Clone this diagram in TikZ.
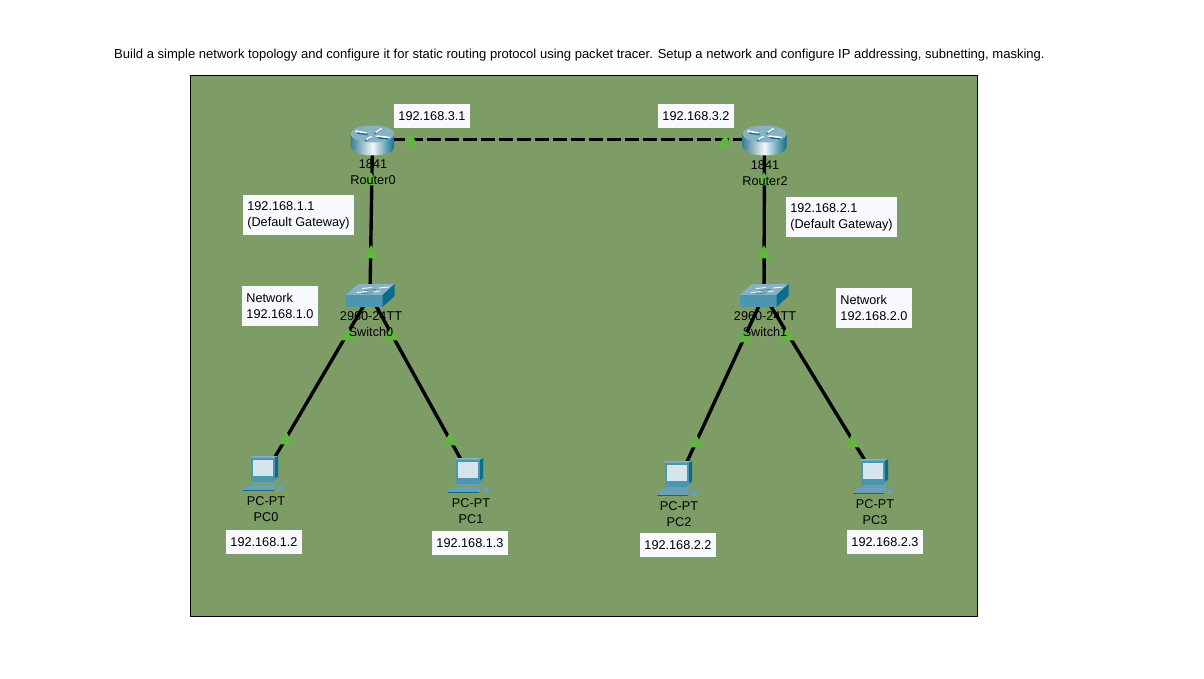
\documentclass[tikz,border=0pt]{standalone}
\usepackage{fontspec}
\setmainfont{Liberation Sans}
\usepackage{tikz}
\usetikzlibrary{shapes.geometric,positioning}
\definecolor{canvasgreen}{RGB}{125,156,102}
\definecolor{porttri}{RGB}{96,182,64}
\definecolor{boxwhite}{RGB}{248,248,255}
\definecolor{ciscotop}{RGB}{135,178,196}
\definecolor{ciscodark}{RGB}{62,126,150}
\definecolor{ciscodeep}{RGB}{12,108,140}
\definecolor{ciscoface}{RGB}{76,150,176}
\definecolor{ciscokey}{RGB}{104,160,182}
\definecolor{ciscoscreen}{RGB}{214,228,236}
\newcommand{\lblfont}{\fontsize{12.7}{16}\selectfont}
\tikzset{
    linkline/.style={line width=3.4pt, black},
    portmark/.style={regular polygon, regular polygon sides=3, fill=porttri, inner sep=0pt, minimum size=17.3pt},
    devspot/.style={inner sep=0pt, minimum size=0pt},
    devlabel/.style={font=\lblfont, align=center, inner sep=0pt, text=black},
    ipbox/.style={font=\lblfont, fill=boxwhite, inner sep=0pt, minimum width=76pt, minimum height=24pt, text=black},
    notebox/.style={font=\lblfont, fill=boxwhite, align=left, inner sep=0pt, inner xsep=4pt, minimum height=40pt, text=black},
    routericon/.pic={
        \shade[left color=ciscodark, right color=ciscodeep, middle color=white!90!ciscotop]
            (-22,-5.5) -- (-22,7.5) .. controls (-22,12.2) and (-12,16) .. (0,16)
            .. controls (12,16) and (22,12.2) .. (22,7.5) -- (22,-5.5) -- cycle;
        \fill[ciscotop] (0,-5.5) ellipse [x radius=22pt, y radius=8.5pt];
        \draw[ciscodeep, line width=1.6pt] (-15,-6.6) -- (-5,-5) (5,-2) -- (16,-0.6) (-7,1.2) -- (-2,-1.8) (2,-6) -- (8,-10);
        \draw[white, line width=1.5pt] (-17,-8.5) -- (-6,-6.5) (4,-3.5) -- (17,-2) (-6,0) -- (-1,-3) (3,-7) -- (9,-11);
    },
    switchicon/.pic={
        \fill[ciscotop] (-24.5,0) -- (-12,-11) -- (24.5,-11) -- (12.5,0) -- cycle;
        \fill[ciscoface] (-24.5,0) rectangle (12.5,12);
        \fill[ciscodeep] (12.5,0) -- (24.5,-11) -- (24.5,1) -- (12.5,12) -- cycle;
        \draw[white, line width=0.8pt] (-8,-6.5) -- (2,-7.5) (9,-7) -- (19,-8) (-13,-2.5) -- (-3,-3.5) (4,-3) -- (10,-4);
        \draw[ciscodark, line width=0.6pt] (-6,-4.5) -- (6,-5.5) (-8,-1.5) -- (2,-2);
    },
    pcicon/.pic={
        % monitor
        \fill[ciscodeep] (9,-17.5) -- (13,-18) -- (13,3) -- (9,5) -- cycle;
        \fill[ciscoface] (-14.5,-17.5) rectangle (9.5,5);
        \fill[ciscotop] (-14.5,-17.5) -- (-12,-18) -- (13,-18) -- (9.5,-16.5) -- (-14.5,-16.5) -- cycle;
        \fill[ciscoscreen] (-12.5,-14) rectangle (7.5,2);
        % stand
        \fill[ciscoface] (-14,5) -- (9,5) -- (13,2.5) -- (13,5) -- (9,8) -- (-14,8) -- cycle;
        \fill[ciscokey] (-12,8) -- (8,8) -- (12,5.5) -- (12,7) -- (9,10) -- (-14,10) -- cycle;
        % keyboard and mouse
        \fill[ciscokey] (-22,16) -- (-18,11) -- (11,11) -- (9,16) -- cycle;
        \fill[ciscodeep] (-22,16) rectangle (9,17);
        \fill[ciscokey] (13,13.5) -- (15,11.5) -- (19,11.5) -- (17,17) -- (13,17) -- cycle;
        \draw[ciscokey, line width=0.5pt] (17,11) .. controls (19,8) and (21,9) .. (22,9);
    },
}

\begin{document}
\begin{tikzpicture}[x=1pt, y=-1pt]
    \useasboundingbox (0,0) rectangle (1204,679);

    % Heading
    \node[devlabel, anchor=west, font=\fontsize{13.03}{16}\selectfont] (heading) at (114,55) {Build a simple network topology and configure it for static routing protocol using packet tracer. Setup a network and configure IP addressing, subnetting, masking.};

    % Workspace
    \draw[draw=black, fill=canvasgreen, line width=0.8pt] (190.5,75.5) rectangle (977.5,616.5);

    % Device positions
    \node[devspot] (router0) at (372.5,139.5) {};
    \node[devspot] (router2) at (764.5,139.5) {};
    \node[devspot] (switch0) at (370,295) {};
    \node[devspot] (switch1) at (764,295) {};
    \node[devspot] (pc0) at (265,474) {};
    \node[devspot] (pc1) at (470,476) {};
    \node[devspot] (pc2) at (679,479) {};
    \node[devspot] (pc3) at (875,477) {};

    % Links
    \draw[linkline, dash pattern=on 14pt off 4pt] (router0) -- (router2);
    \draw[linkline] (router0) -- (switch0);
    \draw[linkline] (router2) -- (switch1);
    \draw[linkline] (switch0) -- (pc0);
    \draw[linkline] (switch0) -- (pc1);
    \draw[linkline] (switch1) -- (pc2);
    \draw[linkline] (switch1) -- (pc3);

    % Port lights
    \foreach \tx/\ty/\tn in {411/142/a, 725/143/b, 371/181/c, 371/254/d, 764/181/e, 764/254/f,
        348/336/g, 391/336/h, 286/440/i, 450/441/j, 745/338/k, 787/336/l, 696/443/m, 852/443/n}
        \node[portmark] (port\tn) at (\tx,\ty) {};

    % Device icons
    \pic at (router0) {routericon};
    \pic at (router2) {routericon};
    \pic at (switch0) {switchicon};
    \pic at (switch1) {switchicon};
    \pic at (pc0) {pcicon};
    \pic at (pc1) {pcicon};
    \pic at (pc2) {pcicon};
    \pic at (pc3) {pcicon};

    % Device names
    \node[devlabel] (name0) at (373,172) {1841\\Router0};
    \node[devlabel] (name2) at (765,173) {1841\\Router2};
    \node[devlabel] (nameS0) at (371,324) {2960-24TT\\Switch0};
    \node[devlabel] (nameS1) at (765,324) {2960-24TT\\Switch1};
    \node[devlabel] (namePC0) at (266,509) {PC-PT\\PC0};
    \node[devlabel] (namePC1) at (471,511) {PC-PT\\PC1};
    \node[devlabel] (namePC2) at (679,514) {PC-PT\\PC2};
    \node[devlabel] (namePC3) at (875,512) {PC-PT\\PC3};

    % Address labels
    \node[ipbox] (ipR0) at (432,116) {192.168.3.1};
    \node[ipbox] (ipR2) at (696,116) {192.168.3.2};
    \node[ipbox] (ipPC0) at (264,542) {192.168.1.2};
    \node[ipbox] (ipPC1) at (470,543) {192.168.1.3};
    \node[ipbox] (ipPC2) at (678,545) {192.168.2.2};
    \node[ipbox] (ipPC3) at (885,542) {192.168.2.3};
    \node[notebox] (gate0) at (298.5,215) {192.168.1.1\\(Default Gateway)};
    \node[notebox] (gate2) at (841.5,217) {192.168.2.1\\(Default Gateway)};
    \node[notebox] (net0) at (280,306) {Network\\192.168.1.0};
    \node[notebox] (net1) at (874,308) {Network\\192.168.2.0};
\end{tikzpicture}
\end{document}
